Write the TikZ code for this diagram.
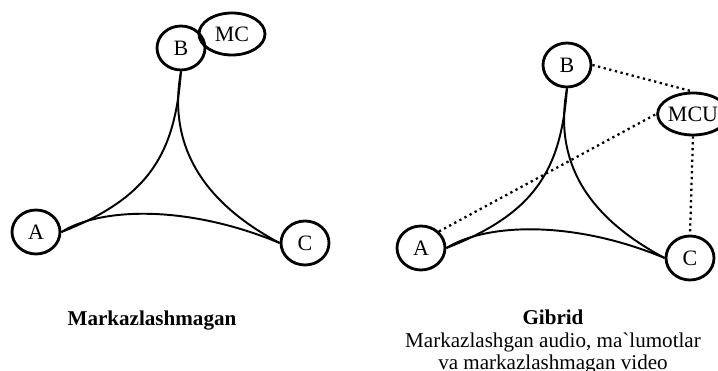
\documentclass[tikz,border=0pt]{standalone}
\usepackage{fontspec}
\setmainfont{Liberation Serif}
\usetikzlibrary{shapes.geometric}
\tikzstyle{station} = [ellipse, draw=black, line width=1.6pt, minimum width=0.96cm, minimum height=0.88cm, inner sep=0pt, font=\fontsize{12.5}{14}\selectfont]
\tikzstyle{server} = [station, minimum width=1.32cm, minimum height=0.84cm]
\tikzstyle{link} = [line width=1.1pt]
\tikzstyle{ctrl} = [line width=1.3pt, dotted]
\tikzstyle{caption} = [font=\fontsize{12}{12.5}\selectfont, align=center, inner sep=0pt]

\begin{document}
\begin{tikzpicture}[x=0.02cm, y=-0.02cm]
\useasboundingbox (0,0) rectangle (718,371);

% decentralised
\node (lB) [station] at (181,48) {B};
\node (lMC) [server] at (232,34) {MC};
\node (lA) [station] at (36,232) {A};
\node (lC) [station] at (305,243) {C};

\draw [link] (lB.south) .. controls +(-6,80) and +(90,-35) .. (lA.east);
\draw [link] (lB.south) .. controls +(-13,70) and +(-81,-43) .. (lC.west);
\draw [link] (lA.east) .. controls +(40,-25) and +(-91,-38) .. (lC.west);

\node (lName) [caption] at (152,321) {\bfseries Markazlashmagan};

% hybrid
\node (rB) [station] at (567,65) {B};
\node (rMCU) [server, minimum width=1.28cm] at (693,114) {MCU};
\node (rA) [station] at (421,248) {A};
\node (rC) [station] at (690,258) {C};

\draw [link] (rB.south) .. controls +(-6,80) and +(90,-35) .. (rA.east);
\draw [link] (rB.south) .. controls +(-13,70) and +(-81,-43) .. (rC.west);
\draw [link] (rA.east) .. controls +(40,-25) and +(-91,-38) .. (rC.west);

\draw [ctrl] (rB.east) -- (rMCU.north);
\draw [ctrl] (rA.north east) -- (rMCU.west);
\draw [ctrl] (rMCU.south) -- (rC.north);

\node (rName) [caption] at (553,317) {\bfseries Gibrid};
\node (rNote) [caption] at (553,353) {Markazlashgan audio, ma{\XeTeXglyph\XeTeXcharglyph"60}lumotlar\\va markazlashmagan video};
\end{tikzpicture}
\end{document}
